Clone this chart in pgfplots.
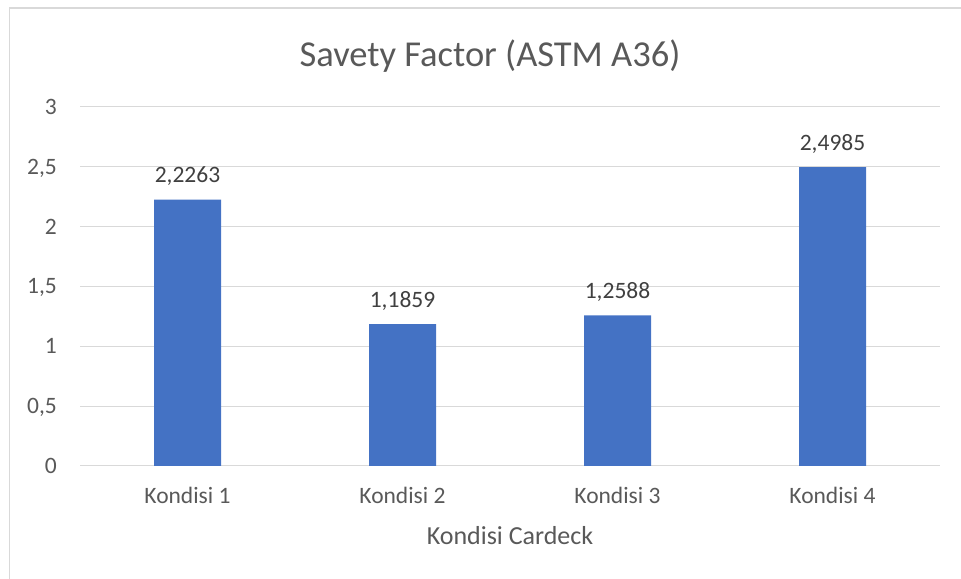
\documentclass[border=0pt]{standalone}
\usepackage{pgfplots}
\pgfplotsset{compat=1.18}
\usepackage{pgfplotstable}
\usepackage{fontspec}
\setmainfont{Carlito}
\definecolor{barblue}{HTML}{4472C4}
\definecolor{gridgray}{HTML}{D9D9D9}
\definecolor{ticktext}{HTML}{595959}
\definecolor{labeltext}{HTML}{404040}
\pgfplotstableread{
x y lab
0 2.2263 2,2263
1 1.1859 1,1859
2 1.2588 1,2588
3 2.4985 2,4985
}\datatable
\begin{document}
\begin{tikzpicture}[x=1bp,y=1bp]
\useasboundingbox (0,0) rectangle (961,579);
\draw[gridgray, line width=1.5bp] (9.5,0) -- (9.5,571) -- (961,571);
\begin{axis}[
  at={(80bp,113bp)}, anchor=south west,
  scale only axis, width=860bp, height=359bp,
  xmin=-0.5, xmax=3.5, ymin=0, ymax=3,
  axis line style={draw=none},
  major tick length=0pt,
  ytick={0,0.5,1,1.5,2,2.5,3},
  yticklabels={0,{0,5},1,{1,5},2,{2,5},3},
  xtick={0,1,2,3},
  xticklabels={Kondisi 1,Kondisi 2,Kondisi 3,Kondisi 4},
  ymajorgrids,
  grid style={gridgray, line width=1bp},
  tick label style={text=ticktext, font=\fontsize{23.5bp}{28bp}\selectfont},
  yticklabel style={anchor=base east, inner sep=0pt, xshift=-23bp, yshift=-7.5bp},
  xticklabel style={anchor=base, inner sep=0pt, yshift=-38bp},
  clip=false,
]
\addplot[ybar, bar width=67bp, fill=barblue, draw=none,
  nodes near coords, point meta=explicit symbolic,
  nodes near coords style={anchor=base, inner sep=0pt, yshift=17bp, text=labeltext, font=\fontsize{23.5bp}{28bp}\selectfont}]
  table[x=x, y=y, meta=lab] {\datatable};
\end{axis}
\node[anchor=base, text=ticktext, font=\fontsize{36.5bp}{42bp}\selectfont] at (490,512) {Savety Factor (ASTM A36)};
\node[anchor=base, text=ticktext, font=\fontsize{26bp}{30bp}\selectfont] at (510,34) {Kondisi Cardeck};
\end{tikzpicture}
\end{document}
